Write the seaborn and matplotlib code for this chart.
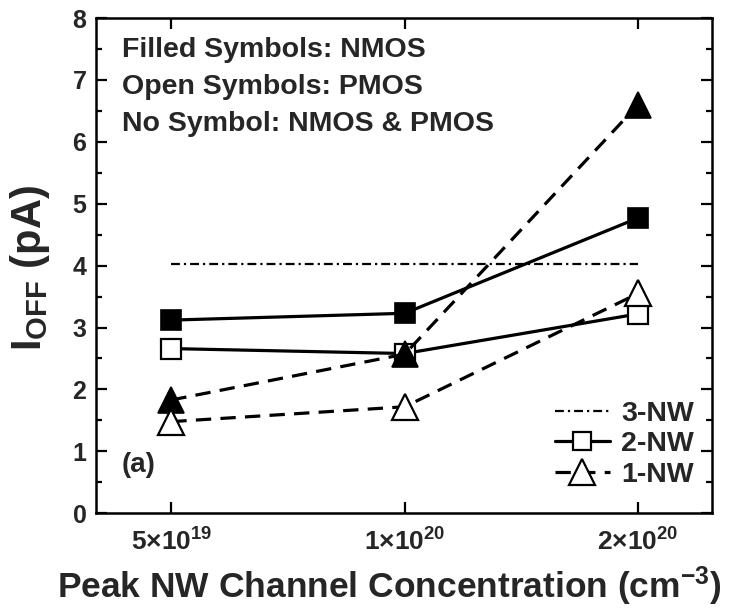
import matplotlib
matplotlib.use("Agg")
import matplotlib.pyplot as plt
import matplotlib.ticker as mticker
import numpy as np
import pandas as pd
import seaborn as sns

# Peak nanowire channel doping (cm^-3)
concentration = [5e19, 1e20, 2e20]
tick_labels = [r"$5{\times}10^{19}$", r"$1{\times}10^{20}$", r"$2{\times}10^{20}$"]

# Off-state current (pA)
ioff_3nw = [4.03, 4.03, 4.03]          # NMOS & PMOS
ioff_2nw_nmos = [3.12, 3.23, 4.77]
ioff_2nw_pmos = [2.66, 2.58, 3.22]
ioff_1nw_nmos = [1.83, 2.57, 6.60]
ioff_1nw_pmos = [1.48, 1.72, 3.55]

sns.set_style("ticks")
plt.rcParams["font.family"] = ["Liberation Sans", "DejaVu Sans"]
plt.rcParams["font.weight"] = "bold"
plt.rcParams["mathtext.fontset"] = "custom"
plt.rcParams["mathtext.rm"] = "Liberation Sans:bold"
plt.rcParams["mathtext.bf"] = "Liberation Sans:bold"
plt.rcParams["mathtext.it"] = "Liberation Sans:bold"
plt.rcParams["mathtext.default"] = "rm"

fig = plt.figure(figsize=(7.40, 6.11), dpi=100)
ax = fig.add_axes([0.130, 0.160, 0.832, 0.8105])

dash = (4.8, 2.9)
dashdot = (4.0, 1.8, 1.0, 1.8)

l3 = sns.lineplot(x=concentration, y=ioff_3nw, ax=ax, color="black", lw=1.6,
                  label="3-NW").get_lines()[-1]
l3.set_dashes(dashdot)

sns.lineplot(x=concentration, y=ioff_2nw_nmos, ax=ax, color="black", lw=2.3,
             marker="s", ms=15, mfc="black", mec="black", mew=1.2)
l2 = sns.lineplot(x=concentration, y=ioff_2nw_pmos, ax=ax, color="black", lw=2.3,
                  marker="s", ms=14, mfc="white", mec="black", mew=1.6,
                  label="2-NW").get_lines()[-1]

n1 = sns.lineplot(x=concentration, y=ioff_1nw_nmos, ax=ax, color="black", lw=2.3,
                  marker="^", ms=19, mfc="black", mec="black", mew=1.2).get_lines()[-1]
n1.set_dashes(dash)
l1 = sns.lineplot(x=concentration, y=ioff_1nw_pmos, ax=ax, color="black", lw=2.3,
                  marker="^", ms=19, mfc="white", mec="black", mew=1.6,
                  label="1-NW").get_lines()[-1]
l1.set_dashes(dash)

ax.set_xscale("log")
ax.set_xlim(4.0e19, 2.49e20)
ax.set_ylim(0, 8)
ax.xaxis.set_major_locator(mticker.FixedLocator(concentration))
ax.xaxis.set_major_formatter(mticker.FixedFormatter(tick_labels))
ax.xaxis.set_minor_locator(mticker.NullLocator())
ax.yaxis.set_major_locator(mticker.MultipleLocator(1))
ax.yaxis.set_minor_locator(mticker.MultipleLocator(0.5))

ax.tick_params(axis="both", which="both", direction="in", top=True, right=True,
               width=1.6, color="black")
ax.tick_params(axis="both", which="major", length=8)
ax.tick_params(axis="both", which="minor", length=4)
ax.tick_params(axis="y", labelsize=18, pad=7)
ax.tick_params(axis="x", labelsize=19, pad=11)
for s in ax.spines.values():
    s.set_linewidth(1.8)
    s.set_color("black")

ax.set_xlabel("Peak NW Channel Concentration (cm$^{-3}$)", fontsize=25.5,
              fontweight="bold")
ax.xaxis.set_label_coords(0.476, -0.104)
ax.set_ylabel("I$_{\\mathrm{OFF}}$ (pA)", fontsize=30, fontweight="bold")
ax.yaxis.set_label_coords(-0.072, 0.495)

notes = ["Filled Symbols: NMOS", "Open Symbols: PMOS", "No Symbol: NMOS & PMOS"]
for i, t in enumerate(notes):
    ax.text(0.042, 0.935 - i * 0.0747, t, transform=ax.transAxes, fontsize=20.5,
            fontweight="bold", va="center", ha="left")
ax.text(0.042, 0.097, "(a)", transform=ax.transAxes, fontsize=20,
        fontweight="bold", va="center", ha="left")

leg = ax.legend(handles=[l3, l2, l1], labels=["3-NW", "2-NW", "1-NW"],
                loc="lower right", bbox_to_anchor=(1.012, 0.0), frameon=False,
                fontsize=20.5, handlelength=1.9, handletextpad=0.4,
                labelspacing=0.16, numpoints=1, markerscale=0.95)
for t in leg.get_texts():
    t.set_fontweight("bold")

fig.savefig("out.png", dpi=100)
